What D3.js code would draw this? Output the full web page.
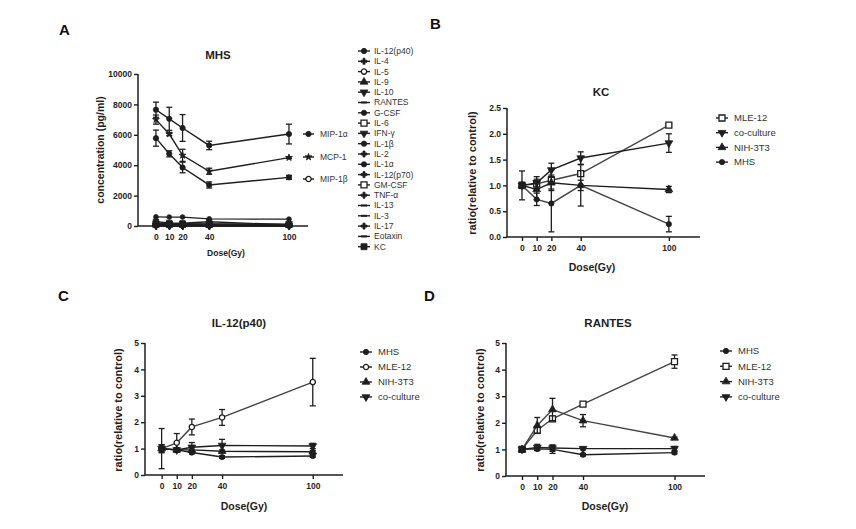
<!DOCTYPE html>
<html><head><meta charset="utf-8">
<script src="https://cdn.jsdelivr.net/npm/d3@7"></script>
<style>
html,body{margin:0;padding:0;background:#fff;}
svg{display:block;font-family:"Liberation Sans",Arial,sans-serif;}
</style></head><body>
<svg id="c" width="856" height="529"></svg>
<script>
// ---------------- DATA ----------------
const doses = [0, 10, 20, 40, 100];
const doseTicks = [0, 10, 20, 40, 100];

// Panel A (MHS, concentration pg/ml)
const mip1a = [7650, 7050, 6450, 5300, 6050];
const mip1aErr = [500, 760, 880, 280, 650];
const mcp1 = [7000, 6050, 4650, 3600, 4500];
const mcp1Err = [300, 100, 400, 200, 60];
const mip1b = [5780, 4750, 3850, 2700, 3200];
const mip1bErr = [530, 200, 350, 200, 130];
const aYTicks = [0, 2000, 4000, 6000, 8000, 10000];

const cytoNames = ["IL-12(p40)","IL-4","IL-5","IL-9","IL-10","RANTES","G-CSF","IL-6","IFN-γ","IL-1β","IL-2","IL-1α","IL-12(p70)","GM-CSF","TNF-α","IL-13","IL-3","IL-17","Eotaxin","KC"];
const cytoValues = [
  [600, 590, 590, 470, 450],
  [40, 35, 38, 30, 32],
  [60, 55, 58, 50, 52],
  [90, 85, 80, 75, 70],
  [30, 28, 25, 22, 20],
  [100, 102, 100, 80, 88],
  [150, 140, 135, 120, 110],
  [120, 115, 110, 100, 95],
  [25, 22, 24, 20, 18],
  [70, 65, 66, 60, 58],
  [20, 18, 20, 16, 15],
  [80, 78, 75, 70, 68],
  [50, 48, 45, 42, 40],
  [110, 105, 100, 95, 90],
  [35, 30, 32, 28, 26],
  [45, 42, 40, 38, 36],
  [15, 14, 15, 12, 12],
  [55, 50, 52, 48, 45],
  [130, 125, 120, 115, 105],
  [280, 205, 180, 275, 70]
];
const cytoMarkers = ["circle","cross","circleOpen","triangle","triangleDown","dash","circle","squareOpen","triangleDown","circle","cross","circle","cross","squareOpen","cross","dash","dash","cross","dash","square"];

// Panel B (KC)
const kcNames = ["MLE-12","co-culture","NIH-3T3","MHS"];
const kcMle12 = [1.0, 1.03, 1.1, 1.23, 2.17];
const kcMle12Err = [0.06, 0.06, 0.2, 0.05, 0.03];
const kcCoculture = [1.0, 1.05, 1.3, 1.53, 1.82];
const kcCocultureErr = [0.28, 0.12, 0.13, 0.12, 0.18];
const kcNih = [1.0, 0.92, 1.05, 1.0, 0.92];
const kcNihErr = [0.05, 0.2, 0.12, 0.1, 0.06];
const kcMhs = [1.0, 0.73, 0.65, 1.0, 0.25];
const kcMhsErr = [0.05, 0.12, 0.55, 0.4, 0.15];
const ratioTicksB = [0, 0.5, 1.0, 1.5, 2.0, 2.5];

// Panel C (IL-12(p40))
const cNames = ["MHS","MLE-12","NIH-3T3","co-culture"];
const cMhs = [1.0, 0.95, 0.85, 0.68, 0.72];
const cMhsErr = [0.15, 0.05, 0.05, 0.05, 0.05];
const cMle12 = [1.0, 1.22, 1.82, 2.18, 3.52];
const cMle12Err = [0.15, 0.35, 0.3, 0.3, 0.9];
const cNih = [1.0, 0.95, 0.95, 0.9, 0.88];
const cNihErr = [0.1, 0.05, 0.08, 0.05, 0.05];
const cCoculture = [1.0, 0.95, 1.05, 1.12, 1.1];
const cCocultureErr = [0.76, 0.08, 0.18, 0.23, 0.1];
const ratioTicks5 = [0, 1, 2, 3, 4, 5];

// Panel D (RANTES)
const dNames = ["MHS","MLE-12","NIH-3T3","co-culture"];
const dMhs = [1.0, 1.02, 1.0, 0.8, 0.88];
const dMhsErr = [0.05, 0.05, 0.15, 0.05, 0.05];
const dMle12 = [1.0, 1.72, 2.15, 2.7, 4.3];
const dMle12Err = [0.1, 0.1, 0.1, 0.05, 0.25];
const dNih = [1.0, 1.9, 2.5, 2.08, 1.43];
const dNihErr = [0.05, 0.3, 0.42, 0.23, 0.03];
const dCoculture = [1.0, 1.07, 1.05, 1.03, 1.03];
const dCocultureErr = [0.1, 0.12, 0.12, 0.05, 0.08];

// ---------------- DRAWING ----------------
const svg = d3.select("#c");
const INK = "#1e1e1e";
const FONT = "'Liberation Sans', Arial, sans-serif";

function drawMarker(g, type, x, y, s) {
  s = s || 1;
  const open = /Open$/.test(type);
  const base = type.replace("Open", "");
  let sym, rot = 0, size;
  if (base === "circle") { sym = d3.symbolCircle; size = 22 * s; }
  else if (base === "square") { sym = d3.symbolSquare; size = 36 * s; }
  else if (base === "triangle") { sym = d3.symbolTriangle; size = 26 * s; }
  else if (base === "triangleDown") { sym = d3.symbolTriangle; size = 26 * s; rot = 180; }
  else if (base === "cross") { sym = d3.symbolCross; size = 20 * s; }
  else if (base === "star") { sym = d3.symbolStar; size = 15 * s; }
  else if (base === "dash") {
    g.append("line").attr("x1", x - 3).attr("x2", x + 3).attr("y1", y).attr("y2", y)
      .attr("stroke", INK).attr("stroke-width", 2);
    return;
  }
  g.append("path").attr("d", d3.symbol().type(sym).size(size)())
    .attr("transform", `translate(${x},${y}) rotate(${rot})`)
    .attr("fill", open ? "#fff" : INK).attr("stroke", INK).attr("stroke-width", open ? 1.3 : 0.8);
}

function panel(cfg) {
  const g = svg.append("g");
  const x = d3.scaleLinear().domain(cfg.xDomain).range(cfg.xRange);
  const y = d3.scaleLinear().domain(cfg.yDomain).range(cfg.yRange);

  const ya = g.append("g").attr("transform", `translate(${cfg.xRange[0]},0)`)
    .call(d3.axisLeft(y).tickValues(cfg.yTicks).tickFormat(cfg.yFormat).tickSize(4).tickPadding(2));
  const xa = g.append("g").attr("transform", `translate(0,${cfg.yRange[0]})`)
    .call(d3.axisBottom(x).tickValues(doseTicks).tickFormat(d3.format("d")).tickSize(4).tickPadding(4));
  [ya, xa].forEach(a => {
    a.select(".domain").attr("stroke", INK).attr("stroke-width", 1.5);
    a.selectAll(".tick line").attr("stroke", INK).attr("stroke-width", 1.4);
    a.selectAll("text").attr("fill", INK).attr("font-weight", "bold").attr("font-size", cfg.tickFont)
      .attr("font-family", FONT);
  });
  xa.select(".domain").attr("d", `M${cfg.xRange[0]},0H${cfg.xRange[1]}`);
  ya.select(".domain").attr("d", `M0,${cfg.yRange[0]}V${cfg.yRange[1]}`);

  cfg.series.forEach(s => {
    const sg = g.append("g");
    const pts = doses.map((d, i) => ({ d, v: s.values[i], e: s.err ? s.err[i] : 0 }));
    sg.append("path").datum(pts)
      .attr("d", d3.line().x(p => x(p.d)).y(p => y(p.v)))
      .attr("fill", "none").attr("stroke", s.color || INK).attr("stroke-width", s.width || 1.4);
    pts.forEach(p => {
      if (p.e > 0) {
        const cx = x(p.d), y1 = y(p.v + p.e), y2 = y(Math.max(cfg.yDomain[0], p.v - p.e));
        sg.append("line").attr("x1", cx).attr("x2", cx).attr("y1", y1).attr("y2", y2)
          .attr("stroke", INK).attr("stroke-width", 1.3);
        [y1, y2].forEach(yy => sg.append("line").attr("x1", cx - 3).attr("x2", cx + 3)
          .attr("y1", yy).attr("y2", yy).attr("stroke", INK).attr("stroke-width", 1.3));
      }
      drawMarker(sg, s.marker, x(p.d), y(p.v), s.msize);
    });
  });

  g.append("text").attr("x", cfg.titleX).attr("y", cfg.titleY).attr("text-anchor", "middle")
    .attr("font-weight", "bold").attr("font-size", 11.5).attr("fill", INK).text(cfg.title);
  g.append("text").attr("x", cfg.xLabelX).attr("y", cfg.xLabelY).attr("text-anchor", "middle")
    .attr("font-weight", "bold").attr("font-size", cfg.xLabelFont).attr("fill", INK).text("Dose(Gy)");
  g.append("text").attr("transform", `translate(${cfg.yLabelX},${cfg.yLabelY}) rotate(-90)`)
    .attr("text-anchor", "middle").attr("font-weight", "bold").attr("font-size", cfg.yLabelFont)
    .attr("fill", INK).text(cfg.yLabel);
  g.append("text").attr("x", cfg.letterX).attr("y", cfg.letterY).attr("font-weight", "bold")
    .attr("font-size", 15).attr("fill", "#111").text(cfg.letter);

  if (cfg.legend) {
    const L = cfg.legend;
    L.items.forEach((it, i) => {
      const yy = L.y0 + i * L.dy;
      g.append("line").attr("x1", L.x - 6).attr("x2", L.x + 6).attr("y1", yy).attr("y2", yy)
        .attr("stroke", INK).attr("stroke-width", 1.4);
      drawMarker(g, it.marker, L.x, yy, it.msize);
      g.append("text").attr("x", L.x + L.tx).attr("y", yy).attr("dy", "0.35em")
        .attr("font-size", L.font).attr("fill", "#333").text(it.name);
    });
  }
  return { x, y };
}

// Panel A
const aSeries = cytoValues.map((v, i) => ({ values: v, marker: cytoMarkers[i], msize: 0.8, width: i === 0 ? 1.2 : 1.4 }))
  .concat([
    { values: mip1a, err: mip1aErr, marker: "circle" },
    { values: mcp1, err: mcp1Err, marker: "star" },
    { values: mip1b, err: mip1bErr, marker: "circle" }
  ]);
panel({
  xDomain: [-13.5, 114.3], xRange: [138, 308],
  yDomain: [0, 10000], yRange: [226, 74], yTicks: aYTicks, yFormat: d3.format("d"),
  tickFont: 8.5, series: aSeries,
  title: "MHS", titleX: 218, titleY: 59,
  xLabelX: 226, xLabelY: 256, xLabelFont: 8.5,
  yLabel: "concentration (pg/ml)", yLabelX: 104, yLabelY: 150, yLabelFont: 10.5,
  letter: "A", letterX: 59, letterY: 35,
  legend: { x: 364, y0: 51, dy: 10.3, tx: 10, font: 8.5,
    items: cytoNames.map((n, i) => ({ name: n, marker: cytoMarkers[i] })) }
});
const innerA = svg.append("g");
[["MIP-1α", "circle", 134], ["MCP-1", "star", 157], ["MIP-1β", "circleOpen", 179]].forEach(([n, m, yy]) => {
  innerA.append("line").attr("x1", 303).attr("x2", 314).attr("y1", yy).attr("y2", yy).attr("stroke", INK).attr("stroke-width", 1.4);
  drawMarker(innerA, m, 308.5, yy);
  innerA.append("text").attr("x", 320).attr("y", yy).attr("dy", "0.35em").attr("font-size", 8.5).attr("fill", "#333").text(n);
});

// Panel B
panel({
  xDomain: [-10.2, 121.2], xRange: [507, 700],
  yDomain: [0, 2.5], yRange: [237, 108], yTicks: ratioTicksB, yFormat: d3.format(".1f"),
  tickFont: 8.5,
  series: [
    { values: kcMle12, err: kcMle12Err, marker: "squareOpen", color: "#444" },
    { values: kcCoculture, err: kcCocultureErr, marker: "triangleDown" },
    { values: kcNih, err: kcNihErr, marker: "triangle" },
    { values: kcMhs, err: kcMhsErr, marker: "circle", color: "#444" }
  ],
  title: "KC", titleX: 601, titleY: 96,
  xLabelX: 592, xLabelY: 271, xLabelFont: 10.5,
  yLabel: "ratio(relative to control)", yLabelX: 476, yLabelY: 173, yLabelFont: 11,
  letter: "B", letterX: 430, letterY: 29,
  legend: { x: 722, y0: 118, dy: 14.7, tx: 12, font: 9.5,
    items: kcNames.map((n, i) => ({ name: n, marker: ["squareOpen", "triangleDown", "triangle", "circle"][i] })) }
});

// Panel C
panel({
  xDomain: [-11, 120], xRange: [145, 343],
  yDomain: [0, 5], yRange: [475, 343], yTicks: ratioTicks5, yFormat: d3.format("d"),
  tickFont: 8.5,
  series: [
    { values: cMhs, err: cMhsErr, marker: "circle" },
    { values: cMle12, err: cMle12Err, marker: "circleOpen", color: "#444" },
    { values: cNih, err: cNihErr, marker: "triangle" },
    { values: cCoculture, err: cCocultureErr, marker: "triangleDown" }
  ],
  title: "IL-12(p40)", titleX: 239, titleY: 327,
  xLabelX: 244, xLabelY: 510, xLabelFont: 10.5,
  yLabel: "ratio(relative to control)", yLabelX: 122, yLabelY: 410, yLabelFont: 11,
  letter: "C", letterX: 58, letterY: 301,
  legend: { x: 366, y0: 352, dy: 15, tx: 12, font: 9.5,
    items: cNames.map((n, i) => ({ name: n, marker: ["circle", "circleOpen", "triangle", "triangleDown"][i] })) }
});

// Panel D
panel({
  xDomain: [-10.5, 120], xRange: [506, 705],
  yDomain: [0, 5], yRange: [476, 343], yTicks: ratioTicks5, yFormat: d3.format("d"),
  tickFont: 8.5,
  series: [
    { values: dMhs, err: dMhsErr, marker: "circle" },
    { values: dMle12, err: dMle12Err, marker: "squareOpen", color: "#444" },
    { values: dNih, err: dNihErr, marker: "triangle", color: "#444" },
    { values: dCoculture, err: dCocultureErr, marker: "triangleDown" }
  ],
  title: "RANTES", titleX: 608, titleY: 327,
  xLabelX: 605, xLabelY: 510, xLabelFont: 10.5,
  yLabel: "ratio(relative to control)", yLabelX: 484, yLabelY: 410, yLabelFont: 11,
  letter: "D", letterX: 424, letterY: 301,
  legend: { x: 726, y0: 351, dy: 15.3, tx: 12, font: 9.5,
    items: dNames.map((n, i) => ({ name: n, marker: ["circle", "squareOpen", "triangle", "triangleDown"][i] })) }
});
</script>
</body></html>
